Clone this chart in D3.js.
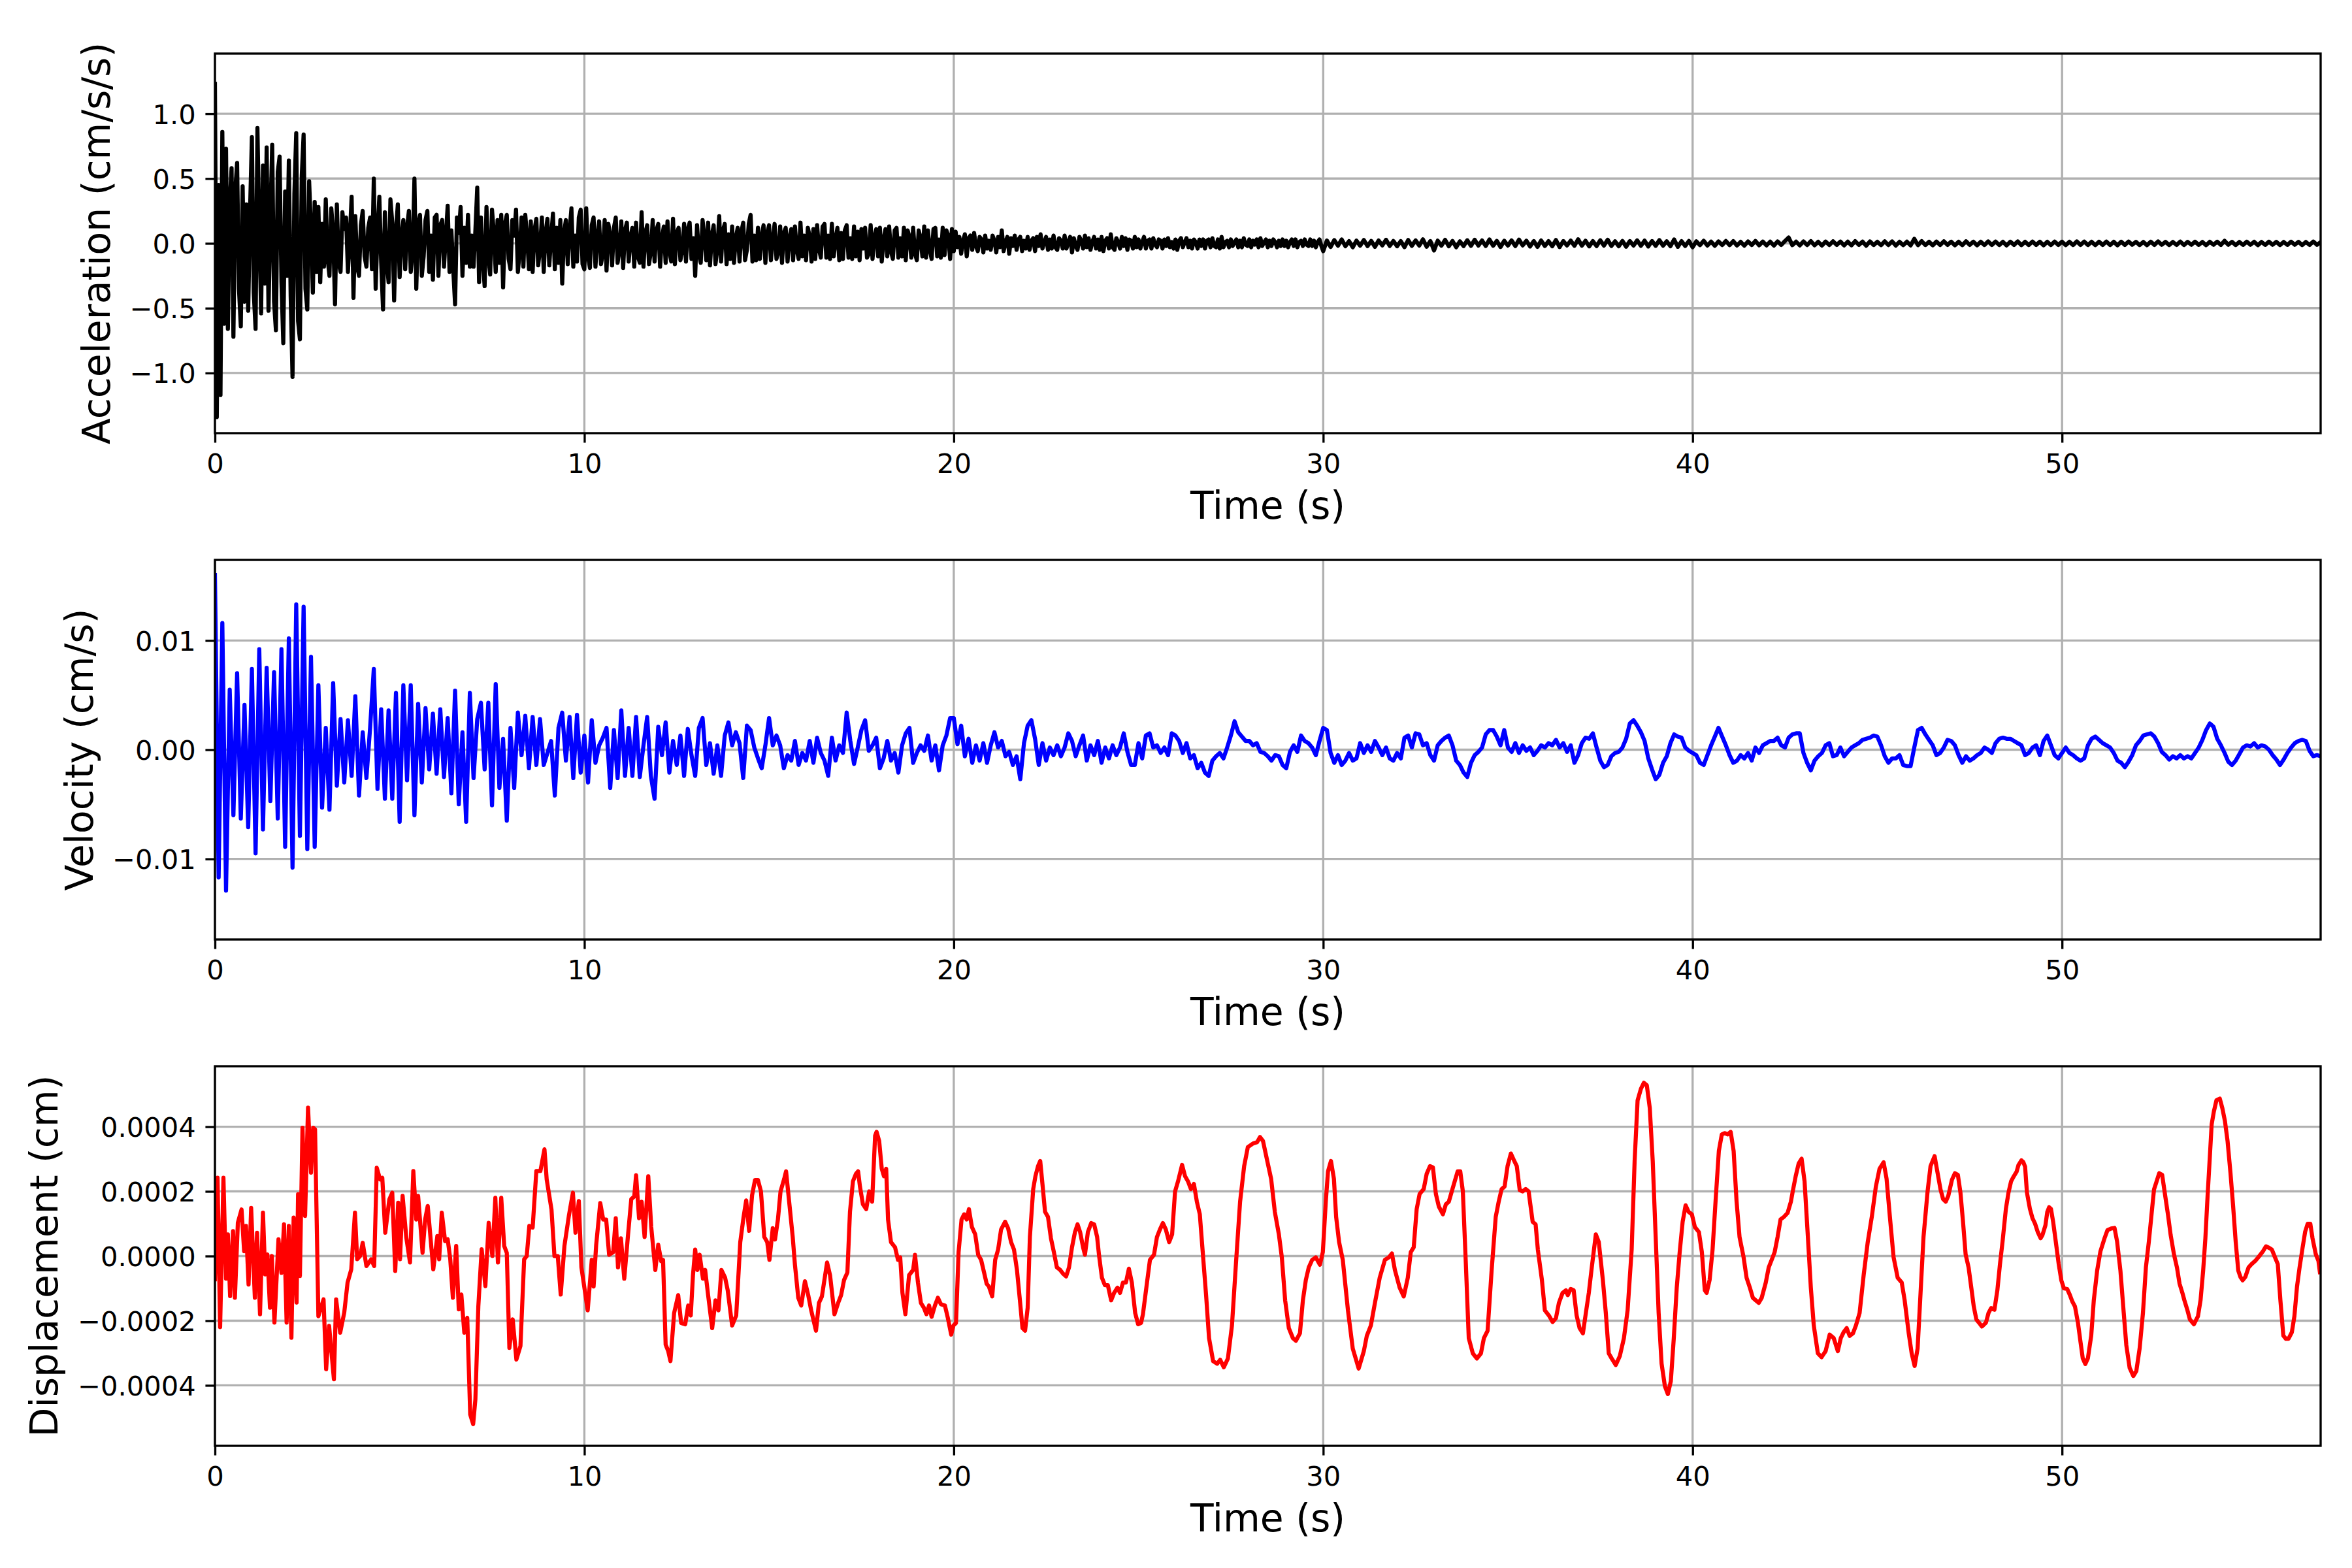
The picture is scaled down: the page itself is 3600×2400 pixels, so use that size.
<!DOCTYPE html>
<html>
<head>
<meta charset="utf-8">
<script src="https://cdn.jsdelivr.net/npm/d3@7"></script>
<style>
  body { margin: 0; background: #fff; }
</style>
</head>
<body>
<svg id="chart" width="3600" height="2400"></svg>
<script>
// sampling steps (s) of the values
const EARLY_DT = 0.05;   // acceleration, 0 - 30 s
const LATE_START = 30;
const SAMPLE_DT = 0.1;   // acceleration after 30 s, velocity everywhere

// Acceleration (cm/s/s), 0 - 29.95 s
const accelEarly = [
  1.23,-1.34,0.45,-1.17,0.86,-0.62,0.73,-0.66,0.32,0.58,-0.72,0.41,0.62,-0.35,-0.64,0.44,-0.45,0.30,-0.52,0.25,
  0.82,-0.38,-0.66,0.89,0.12,-0.54,0.60,-0.31,0.74,-0.52,0.20,0.76,-0.45,-0.67,0.55,0.67,-0.30,-0.77,0.40,-0.25,
  0.64,-0.41,-1.03,0.38,0.85,-0.60,-0.74,0.52,0.84,-0.35,-0.51,0.48,0.10,-0.38,0.32,-0.22,0.28,-0.30,0.15,-0.18,
  0.34,-0.12,-0.25,0.27,0.08,-0.47,0.30,-0.15,-0.22,0.24,0.11,0.20,-0.22,0.05,0.36,-0.42,0.21,-0.18,-0.25,0.14,
  0.25,-0.10,-0.18,0.12,0.20,-0.20,0.50,-0.35,0.08,0.36,-0.15,-0.51,0.24,-0.14,-0.30,0.34,0.16,-0.44,0.10,0.30,
  -0.26,0.05,0.18,-0.20,0.12,0.25,-0.22,-0.08,0.50,-0.35,0.15,0.22,-0.25,-0.10,0.18,0.25,-0.22,0.06,-0.28,0.20,
  0.22,-0.25,0.14,0.18,-0.18,0.06,0.29,-0.22,0.10,-0.20,-0.47,0.20,0.08,0.28,-0.25,0.12,-0.15,0.22,-0.18,0.06,
  -0.18,0.10,0.43,-0.30,0.20,-0.12,-0.33,0.28,-0.10,-0.24,0.26,0.08,-0.22,0.18,-0.15,0.22,-0.34,0.15,0.22,-0.12,
  -0.20,0.18,0.06,0.26,-0.22,-0.06,0.20,-0.18,0.22,0.05,-0.20,0.17,-0.22,0.10,0.19,-0.17,-0.04,0.20,-0.22,0.08,
  0.19,-0.17,0.05,0.23,-0.20,0.12,-0.15,0.18,-0.31,0.08,0.18,-0.16,0.10,0.27,-0.18,0.06,-0.14,0.20,0.26,-0.16,
  -0.20,0.27,-0.10,-0.19,0.14,0.20,-0.18,0.05,0.17,-0.16,-0.08,0.18,-0.21,0.15,0.06,-0.17,0.12,0.20,-0.15,-0.05,
  0.17,-0.19,0.10,0.16,-0.14,0.05,0.12,-0.18,0.16,-0.10,-0.15,0.24,-0.18,0.08,0.14,-0.16,-0.06,0.18,-0.14,0.10,
  0.15,-0.18,0.04,0.13,-0.15,0.17,-0.06,-0.14,0.19,-0.16,0.08,0.12,-0.13,-0.05,0.15,-0.14,0.11,0.16,-0.12,0.04,
  -0.25,0.14,-0.08,-0.15,0.18,0.05,-0.13,0.16,-0.17,0.06,0.14,-0.16,-0.04,0.21,-0.14,0.10,0.15,-0.16,0.07,-0.12,
  0.13,-0.15,0.04,0.12,-0.14,0.09,0.16,-0.13,-0.05,0.15,0.22,-0.14,0.06,-0.13,0.12,-0.12,0.05,0.14,-0.15,0.08,
  0.14,-0.13,0.03,0.15,-0.12,-0.06,0.13,-0.15,0.08,0.12,-0.14,0.04,0.11,-0.13,0.13,-0.05,-0.12,0.16,-0.10,0.06,
  -0.13,0.12,0.05,-0.14,0.11,-0.12,0.14,-0.04,-0.11,0.13,0.15,-0.11,0.06,-0.12,0.15,-0.10,0.03,0.12,-0.13,0.08,
  -0.12,0.10,0.14,-0.11,0.04,-0.12,0.13,-0.10,0.09,-0.13,0.11,-0.04,0.12,-0.11,-0.08,0.14,-0.12,0.05,0.11,-0.10,
  0.12,-0.14,0.03,0.11,-0.10,0.13,-0.06,-0.12,0.10,0.12,-0.11,0.04,-0.10,0.12,-0.13,0.10,0.05,-0.11,0.12,-0.08,
  -0.13,0.10,0.04,-0.10,0.13,-0.11,0.10,-0.05,-0.12,0.11,0.12,-0.10,0.03,-0.11,0.12,-0.09,0.10,0.06,-0.12,0.11,
  -0.06,0.09,-0.03,0.05,-0.08,0.02,0.07,-0.10,0.04,0.06,-0.05,0.08,-0.02,-0.06,0.05,0.03,-0.07,0.06,-0.04,0.02,
  -0.05,0.06,0.02,-0.07,0.05,-0.03,0.10,-0.06,0.01,0.05,-0.08,0.04,-0.02,0.06,-0.05,0.03,0.05,-0.06,0.02,-0.04,
  0.05,-0.05,0.02,0.04,-0.06,0.05,-0.02,0.07,-0.04,0.01,0.05,-0.05,0.03,-0.04,0.06,-0.03,-0.05,0.04,0.02,-0.04,
  0.06,-0.04,0.01,0.05,-0.07,0.04,-0.02,-0.05,0.05,0.02,-0.04,0.06,-0.03,0.04,-0.05,0.01,0.05,-0.04,0.03,-0.05,
  0.05,-0.06,0.02,0.04,-0.04,0.07,-0.03,-0.05,0.04,0.01,-0.04,0.05,-0.02,0.04,-0.05,0.03,0.02,-0.04,0.05,-0.03,
  0.03,-0.04,0.01,0.05,-0.04,0.02,0.03,-0.04,0.04,-0.01,-0.03,0.03,0.02,-0.04,0.03,-0.02,0.04,-0.03,0.01,-0.04,
  0.03,-0.05,0.02,0.04,-0.03,0.01,0.04,-0.03,0.02,-0.04,0.03,0.01,-0.04,0.03,-0.02,0.03,-0.04,0.02,0.03,-0.03,
  0.04,-0.02,-0.03,0.03,-0.04,0.05,-0.03,0.01,0.02,-0.03,0.03,-0.02,0.01,0.03,-0.03,0.02,-0.03,0.04,-0.01,-0.02,
  0.03,-0.03,0.02,-0.01,0.03,-0.03,0.04,-0.02,0.01,0.03,-0.03,0.02,-0.02,0.03,0.01,-0.03,0.02,-0.02,0.03,-0.02,
  0.02,-0.03,0.01,0.03,-0.02,0.03,-0.03,0.01,0.02,-0.02,0.03,-0.01,-0.02,0.03,-0.02,0.02,-0.03,0.01,0.03,-0.02
];

// Acceleration (cm/s/s), 30.0 - 57.0 s
const accelLate = [
  -0.060,0.022,-0.028,0.025,-0.018,0.030,-0.022,0.017,-0.030,0.021,
  -0.018,0.026,-0.021,0.019,-0.027,0.022,-0.016,0.028,-0.020,0.018,
  -0.022,0.017,-0.029,0.026,-0.019,0.023,-0.017,0.031,-0.026,0.018,
  -0.055,0.021,-0.018,0.027,-0.022,0.019,-0.030,0.016,-0.021,0.024,
  -0.019,0.028,-0.017,0.022,-0.020,0.030,-0.018,0.019,-0.028,0.020,
  -0.017,0.023,-0.021,0.029,-0.016,0.020,-0.024,0.018,-0.027,0.022,
  -0.020,0.017,-0.022,0.026,-0.029,0.018,-0.016,0.021,-0.019,0.032,
  -0.018,0.020,-0.023,0.017,-0.021,0.024,-0.017,0.028,-0.020,0.016,
  -0.022,0.019,-0.026,0.018,-0.017,0.023,-0.019,0.021,-0.024,0.018,
  -0.019,0.025,-0.018,0.016,-0.022,0.030,-0.027,0.017,-0.020,0.019,
  -0.030,0.016,-0.014,0.020,-0.017,0.013,-0.019,0.015,-0.013,0.018,
  -0.014,0.017,-0.016,0.012,-0.018,0.015,-0.013,0.019,-0.015,0.014,
  -0.016,0.013,-0.017,0.015,-0.012,0.018,0.045,-0.014,0.013,-0.016,
  0.015,-0.013,0.017,-0.015,0.012,-0.017,0.014,-0.013,0.016,-0.012,
  0.014,-0.016,0.013,-0.015,0.017,-0.012,0.013,-0.018,0.015,-0.013,
  0.012,-0.014,0.016,-0.013,0.015,-0.017,0.012,-0.014,0.013,-0.016,
  0.035,-0.014,0.017,-0.013,0.012,-0.015,0.014,-0.013,0.016,-0.012,
  0.013,-0.015,0.012,-0.014,0.016,-0.012,0.013,-0.015,0.012,-0.013,
  0.015,-0.012,0.014,-0.013,0.012,-0.016,0.013,-0.012,0.015,-0.014,
  0.012,-0.013,0.014,-0.012,0.013,-0.015,0.012,-0.013,0.014,-0.012,
  0.013,-0.014,0.012,-0.013,0.015,-0.012,0.014,-0.013,0.012,-0.014,
  0.013,-0.012,0.014,-0.013,0.012,-0.015,0.013,-0.012,0.014,-0.011,
  0.012,-0.013,0.011,-0.014,0.013,-0.012,0.015,-0.011,0.012,-0.013,
  0.011,-0.012,0.014,-0.013,0.012,-0.011,0.013,-0.012,0.011,-0.014,
  0.012,-0.011,0.013,-0.012,0.020,-0.011,0.012,-0.013,0.011,-0.012,
  0.013,-0.011,0.012,-0.014,0.011,-0.012,0.013,-0.011,0.012,-0.013,
  0.011,-0.012,0.013,-0.011,0.012,-0.013,0.011,-0.012,0.014,-0.011,
  0.010
];

// Velocity, in thousandths of cm/s, 0 - 57.0 s
const velocityMilli = [
  16.0,-11.7,11.6,-12.9,5.5,-6.0,7.0,-6.3,4.1,-7.1,
  7.4,-9.5,9.2,-7.3,7.5,-4.7,7.1,-6.3,9.2,-8.9,
  10.2,-10.8,13.3,-7.9,13.1,-9.1,8.5,-8.9,5.9,-5.3,
  2.0,-5.5,6.1,-3.3,2.8,-3.0,2.7,-2.4,4.9,-4.2,
  1.6,-2.6,2.0,7.4,-3.6,3.7,-4.5,3.6,-4.5,5.2,
  -6.6,5.9,-2.8,5.9,-6.0,4.2,-3.0,3.8,-1.8,3.3,
  -2.2,3.7,-2.5,2.9,-4.0,5.4,-5.0,1.6,-6.6,5.2,
  -2.6,2.8,4.3,-1.8,4.3,-5.1,6.0,-3.5,1.0,-6.5,
  2.0,-3.5,3.4,-0.5,3.1,-1.7,3.0,-1.4,2.8,-1.4,
  -0.3,0.8,-4.2,2.0,3.4,-1.0,3.0,-2.6,3.2,-2.1,
  1.3,-3.0,2.7,-1.2,0.4,1.1,2.0,-3.5,1.8,-2.6,
  3.6,-2.4,2.0,-2.4,3.0,-2.5,0.4,3.0,-2.4,-4.5,
  2.1,-0.5,2.5,-2.1,0.8,-1.4,1.3,-2.4,1.9,-0.5,
  -2.4,2.0,2.9,-1.4,0.6,-2.2,0.4,-2.4,1.3,2.5,
  0.4,1.6,0.6,-2.6,2.2,1.8,0.2,-0.8,-1.7,0.4,
  2.9,0.4,1.3,0.4,-1.7,-0.5,-1.0,0.8,-1.4,-0.3,
  -1.0,0.8,-1.2,1.1,-0.3,-1.0,-2.4,1.1,-1.0,0.4,
  -0.3,3.4,0.8,-1.3,0.2,1.8,2.7,-0.1,0.4,1.1,
  -1.7,-0.8,0.8,-1.0,-0.3,-2.1,0.4,1.5,2.0,-1.2,
  -0.3,0.4,-0.1,1.3,-1.0,0.4,-1.9,0.4,1.3,2.9,
  2.9,0.5,2.2,-0.6,1.0,-1.2,0.4,-1.0,0.6,-1.2,
  0.4,1.6,0.2,0.8,-0.6,-0.2,-1.4,-0.6,-2.7,0.6,
  2.2,2.7,1.0,-1.4,0.6,-1.0,0.2,-0.5,0.4,-0.6,
  0.2,1.5,0.8,-0.6,0.4,1.3,-1.0,0.4,-0.5,0.8,
  -1.2,0.2,-0.8,0.4,-0.5,0.2,1.5,-0.2,-1.4,-1.4,
  0.6,-0.8,1.3,1.5,0.2,0.4,-0.3,0.2,-0.5,1.5,
  1.3,0.8,-0.3,0.6,-0.8,-0.5,-1.7,-1.2,-2.1,-2.4,
  -1.0,-0.6,-0.3,-0.8,0.2,1.3,2.6,1.6,1.2,0.8,
  0.8,0.4,0.6,-0.2,-0.3,-0.6,-1.0,-0.5,-0.6,-1.4,
  -1.7,-0.2,0.4,-0.2,1.3,0.8,0.6,0.2,-0.5,0.8,
  2.0,1.8,-0.3,-1.2,-0.5,-1.4,-1.0,-0.3,-1.0,-0.8,
  0.6,-0.3,0.4,-0.2,0.8,0.2,-0.5,0.2,-0.8,-1.0,
  -0.3,-0.8,1.1,1.3,0.2,1.5,1.4,0.4,0.6,-0.5,
  -1.0,0.4,0.8,1.1,1.3,0.4,-1.0,-1.4,-2.1,-2.5,
  -1.2,-0.5,-0.2,0.2,1.4,1.8,1.8,1.2,0.4,1.8,
  0.2,-0.2,0.6,-0.3,0.4,-0.1,0.2,-0.5,-0.1,0.4,
  0.2,0.6,0.4,0.9,0.2,0.6,-0.2,0.4,-1.2,-0.5,
  0.6,1.1,1.0,1.5,0.2,-1.0,-1.6,-1.4,-0.6,-0.3,
  -0.2,0.2,1.0,2.4,2.7,2.2,1.6,0.8,-0.8,-1.8,
  -2.7,-2.3,-1.2,-0.6,0.6,1.4,1.2,1.1,0.2,-0.1,
  -0.3,-0.5,-1.2,-1.4,-0.5,0.4,1.2,2.0,1.2,0.4,
  -0.5,-1.2,-1.0,-0.5,-0.8,-0.3,-1.0,0.2,-0.3,0.4,
  0.6,0.8,0.8,1.1,0.4,0.2,1.1,1.4,1.5,1.5,
  -0.3,-1.2,-1.9,-1.0,-0.6,-0.3,0.4,0.6,-0.6,-0.5,
  0.2,-0.6,-0.2,0.2,0.4,0.6,0.9,1.0,1.1,1.3,
  1.2,0.4,-0.6,-1.2,-0.8,-0.8,-0.5,-1.4,-1.5,-1.5,
  0.2,1.8,2.0,1.4,0.9,0.4,-0.5,-0.3,0.2,0.9,
  0.8,0.4,-0.5,-1.2,-0.6,-1.0,-0.8,-0.5,-0.3,0.2,
  0.0,-0.3,0.6,1.0,1.1,1.0,1.0,0.8,0.6,0.4,
  -0.5,-0.3,0.2,0.4,-0.5,0.8,1.3,0.4,-0.5,-0.8,
  -0.3,0.2,-0.3,-0.5,-0.8,-1.0,-0.8,0.4,1.0,1.2,
  0.9,0.6,0.4,0.2,-0.3,-1.0,-1.2,-1.6,-1.1,-0.5,
  0.4,0.8,1.3,1.4,1.5,1.2,0.6,-0.2,-0.5,-0.9,
  -0.6,-0.8,-0.5,-0.8,-0.6,-0.8,-0.3,0.2,0.9,1.8,
  2.4,2.1,1.0,0.4,-0.3,-1.1,-1.4,-1.0,-0.4,0.2,
  0.4,0.3,0.6,0.2,0.4,0.3,0.0,-0.5,-0.9,-1.4,
  -0.9,-0.3,0.2,0.6,0.8,0.9,0.8,-0.1,-0.6,-0.5,
  -0.6
];

// Displacement: [time (s), value in units of 1e-4 cm]
const dispSamples = [
  [0,-0.72],[0.07,2.42],[0.14,-2.2],[0.23,2.42],[0.30,-0.7],[0.35,0.67],[0.41,-1.24],[0.49,0.77],
  [0.54,-1.29],[0.62,1.03],[0.72,1.44],[0.79,0.15],[0.84,0.93],[0.91,-0.88],[0.98,1.49],[1.08,-1.29],
  [1.14,0.72],[1.22,-1.8],[1.30,1.34],[1.36,-0.57],[1.42,0.05],[1.49,-1.6],[1.54,0],[1.61,-2.06],
  [1.72,0.52],[1.80,-0.52],[1.87,0.98],[1.94,-2.06],[2.00,0.93],[2.07,-2.53],[2.13,1.19],[2.21,-1.44],
  [2.25,1.91],[2.30,-0.62],[2.37,3.97],[2.44,1.24],[2.52,4.59],[2.60,2.58],[2.66,3.97],[2.71,3.92],
  [2.80,-1.86],[2.94,-1.34],[3.01,-3.5],[3.09,-2.16],[3.22,-3.81],[3.28,-1.34],[3.39,-2.37],[3.50,-1.75],
  [3.59,-0.82],[3.69,-0.41],[3.79,1.34],[3.85,-0.1],[3.93,0],[4.00,0.41],[4.10,-0.31],[4.23,-0.1],
  [4.31,-0.31],[4.38,2.73],[4.47,2.37],[4.53,2.42],[4.61,0.72],[4.72,1.75],[4.80,1.96],[4.88,-0.46],
  [4.96,1.65],[5.01,-0.1],[5.08,1.86],[5.18,0.57],[5.28,-0.2],[5.37,2.63],[5.45,1.13],[5.50,1.86],
  [5.62,0.1],[5.69,1.13],[5.76,1.55],[5.91,-0.41],[6.02,0.62],[6.07,-0.1],[6.14,1.34],[6.23,0.46],
  [6.30,0.52],[6.37,-0.1],[6.44,-1.29],[6.53,0.31],[6.60,-1.65],[6.67,-1.19],[6.75,-2.37],[6.83,-1.91],
  [6.91,-4.9],[6.99,-5.2],[7.05,-4.43],[7.13,-1.55],[7.22,0.21],[7.32,-0.93],[7.41,1.03],[7.51,0],
  [7.59,1.8],[7.66,-0.2],[7.75,1.8],[7.83,0.31],[7.90,0.1],[7.97,-2.84],[8.06,-1.96],[8.16,-3.2],
  [8.27,-2.78],[8.37,-0.1],[8.44,0],[8.51,0.93],[8.60,0.88],[8.70,2.63],[8.81,2.63],[8.92,3.3],
  [8.98,2.37],[9.11,1.44],[9.19,0],[9.28,0],[9.36,-1.19],[9.46,0.31],[9.58,1.24],[9.69,1.96],
  [9.76,0.72],[9.85,1.7],[9.92,-0.35],[10.09,-1.68],[10.20,-0.12],[10.25,-0.94],[10.32,0.35],[10.43,1.64],
  [10.51,1.13],[10.59,1.13],[10.67,0.04],[10.78,0.12],[10.85,1.17],[10.91,-0.35],[10.99,0.55],[11.08,-0.7],
  [11.18,0.63],[11.27,1.76],[11.35,1.84],[11.40,2.5],[11.48,1.17],[11.55,1.68],[11.63,0.59],[11.73,2.47],
  [11.81,0.9],[11.92,-0.43],[12.00,0.35],[12.08,-0.16],[12.13,-0.12],[12.20,-2.74],[12.27,-2.94],[12.33,-3.25],
  [12.43,-1.76],[12.54,-1.21],[12.62,-2.07],[12.73,-2.11],[12.81,-1.53],[12.88,-1.84],[12.94,-0.59],[13.00,0.2],
  [13.06,-0.43],[13.12,0.04],[13.21,-0.7],[13.27,-0.43],[13.35,-1.21],[13.46,-2.23],[13.55,-1.37],[13.63,-1.68],
  [13.71,-0.43],[13.81,-0.67],[13.88,-1.06],[14.00,-2.15],[14.11,-1.84],[14.22,0.43],[14.31,1.21],[14.38,1.72],
  [14.46,0.78],[14.54,1.88],[14.62,2.35],[14.70,2.35],[14.78,2.0],[14.87,0.59],[14.95,0.43],[15.01,-0.12],
  [15.10,0.86],[15.16,0.51],[15.24,1.13],[15.31,2.0],[15.41,2.39],[15.46,2.62],[15.54,1.72],[15.64,0.59],
  [15.70,-0.27],[15.79,-1.29],[15.87,-1.53],[15.97,-0.78],[16.06,-1.21],[16.14,-1.68],[16.27,-2.31],[16.35,-1.45],
  [16.43,-1.25],[16.57,-0.2],[16.65,-0.59],[16.77,-1.8],[16.87,-1.45],[16.95,-1.21],[17.03,-0.74],[17.12,-0.51],
  [17.19,1.37],[17.27,2.31],[17.35,2.54],[17.41,2.62],[17.46,2.15],[17.54,1.6],[17.63,1.45],[17.71,2.0],
  [17.79,1.68],[17.87,3.72],[17.91,3.84],[17.98,3.56],[18.05,2.7],[18.11,2.47],[18.17,2.7],[18.22,1.13],
  [18.30,0.43],[18.41,0.27],[18.49,-0.12],[18.55,-0.04],[18.61,-1.14],[18.69,-1.8],[18.79,-0.59],[18.90,-0.43],
  [18.95,0.04],[19.03,-0.82],[19.11,-1.45],[19.19,-1.6],[19.26,-1.8],[19.33,-1.53],[19.40,-1.88],[19.49,-1.53],
  [19.57,-1.29],[19.65,-1.49],[19.76,-1.53],[19.84,-1.92],[19.93,-2.43],[19.99,-2.15],[20.06,-2.07],[20.13,0.12],
  [20.21,1.13],[20.28,1.29],[20.35,1.13],[20.41,1.45],[20.49,0.9],[20.58,0.67],[20.66,0.04],[20.74,-0.12],
  [20.82,-0.51],[20.89,-0.86],[20.95,-0.94],[21.04,-1.25],[21.12,-0.12],[21.20,0.2],[21.28,0.82],[21.39,1.06],
  [21.47,0.86],[21.55,0.43],[21.63,0.2],[21.71,-0.43],[21.79,-1.37],[21.86,-2.23],[21.93,-2.31],[22.00,-1.6],
  [22.06,0.59],[22.15,2.07],[22.21,2.47],[22.28,2.78],[22.34,2.94],[22.40,2.23],[22.47,1.37],[22.55,1.21],
  [22.63,0.55],[22.71,0.12],[22.79,-0.35],[22.88,-0.43],[22.96,-0.55],[23.04,-0.63],[23.12,-0.35],[23.20,0.27],
  [23.28,0.74],[23.35,0.98],[23.42,0.74],[23.50,0.27],[23.55,0.04],[23.63,0.74],[23.72,1.02],[23.80,0.98],
  [23.88,0.59],[23.93,0.04],[24.01,-0.67],[24.09,-0.9],[24.17,-0.9],[24.26,-1.37],[24.34,-1.14],[24.43,-0.98],
  [24.50,-1.14],[24.58,-0.82],[24.66,-0.82],[24.74,-0.39],[24.82,-0.82],[24.91,-1.76],[24.99,-2.11],[25.07,-2.07],
  [25.12,-1.8],[25.23,-0.82],[25.31,-0.12],[25.42,0.04],[25.50,0.59],[25.58,0.82],[25.66,1.02],[25.74,0.82],
  [25.83,0.43],[25.91,0.67],[25.99,2.0],[26.07,2.31],[26.18,2.82],[26.26,2.47],[26.34,2.31],[26.42,2.07],
  [26.50,2.23],[26.58,1.68],[26.66,1.29],[26.75,-0.04],[26.83,-1.21],[26.91,-2.54],[27.02,-3.25],[27.13,-3.33],
  [27.21,-3.21],[27.31,-3.44],[27.42,-3.17],[27.53,-2.15],[27.64,-0.2],[27.75,1.68],[27.86,2.78],[27.96,3.37],
  [28.10,3.48],[28.21,3.52],[28.29,3.68],[28.37,3.56],[28.48,2.97],[28.59,2.39],[28.69,1.37],[28.80,0.67],
  [28.88,-0.04],[28.97,-1.37],[29.07,-2.23],[29.18,-2.54],[29.26,-2.62],[29.37,-2.39],[29.45,-1.37],[29.53,-0.74],
  [29.61,-0.35],[29.70,-0.12],[29.80,-0.04],[29.91,-0.27],[29.99,0.12],[30.07,1.68],[30.13,2.62],[30.21,2.94],
  [30.29,2.39],[30.35,1.21],[30.43,0.43],[30.53,-0.12],[30.67,-1.68],[30.80,-2.86],[30.96,-3.48],[31.10,-2.94],
  [31.18,-2.47],[31.29,-2.15],[31.40,-1.45],[31.53,-0.67],[31.67,-0.12],[31.78,-0.04],[31.86,0.08],[31.94,-0.43],
  [32.07,-0.98],[32.18,-1.25],[32.29,-0.67],[32.37,0.12],[32.45,0.27],[32.53,1.45],[32.61,1.92],[32.72,2.07],
  [32.80,2.54],[32.89,2.78],[32.97,2.74],[33.05,1.92],[33.13,1.53],[33.24,1.29],[33.32,1.6],[33.40,1.68],
  [33.48,2.0],[33.56,2.31],[33.64,2.62],[33.71,2.62],[33.78,2.0],[33.86,-0.2],[33.94,-2.54],[34.05,-3.01],
  [34.16,-3.17],[34.27,-3.01],[34.35,-2.54],[34.45,-2.31],[34.56,-0.43],[34.67,1.21],[34.75,1.68],[34.83,2.07],
  [34.91,2.15],[34.99,2.78],[35.08,3.17],[35.16,2.97],[35.24,2.78],[35.32,2.04],[35.40,2.0],[35.48,2.07],
  [35.56,2.0],[35.67,1.06],[35.75,0.98],[35.81,0.2],[35.92,-0.74],[36.00,-1.68],[36.11,-1.84],[36.21,-2.04],
  [36.30,-1.92],[36.38,-1.45],[36.48,-1.14],[36.57,-1.06],[36.62,-1.21],[36.70,-1.02],[36.78,-1.06],[36.86,-1.84],
  [36.94,-2.23],[37.03,-2.39],[37.11,-1.76],[37.19,-1.14],[37.27,-0.35],[37.38,0.67],[37.46,0.43],[37.57,-0.74],
  [37.65,-1.76],[37.73,-3.01],[37.81,-3.17],[37.92,-3.37],[38.03,-3.09],[38.14,-2.54],[38.24,-1.68],[38.35,0.2],
  [38.43,2.94],[38.51,4.81],[38.60,5.17],[38.68,5.36],[38.76,5.28],[38.84,4.58],[38.92,2.94],[39.00,0.59],
  [39.08,-1.76],[39.16,-3.33],[39.25,-4.03],[39.33,-4.27],[39.41,-3.87],[39.49,-2.54],[39.57,-0.98],[39.65,0.12],
  [39.73,1.06],[39.81,1.57],[39.89,1.37],[39.98,1.29],[40.06,0.9],[40.17,0.74],[40.25,0.12],[40.33,-1.06],
  [40.38,-1.14],[40.46,-0.74],[40.54,0.2],[40.62,1.68],[40.71,3.25],[40.79,3.76],[40.87,3.8],[40.95,3.76],
  [41.03,3.84],[41.11,3.25],[41.19,1.68],[41.27,0.59],[41.38,-0.04],[41.46,-0.67],[41.55,-0.98],[41.63,-1.29],
  [41.71,-1.37],[41.79,-1.45],[41.87,-1.29],[41.98,-0.82],[42.06,-0.35],[42.14,-0.12],[42.22,0.12],[42.30,0.59],
  [42.38,1.13],[42.47,1.21],[42.57,1.33],[42.66,1.68],[42.71,2.0],[42.79,2.47],[42.87,2.86],[42.95,3.01],
  [43.03,2.31],[43.12,0.59],[43.20,-0.98],[43.28,-2.15],[43.39,-3.01],[43.49,-3.13],[43.60,-2.94],[43.71,-2.43],
  [43.82,-2.54],[43.93,-2.94],[44.01,-2.54],[44.09,-2.35],[44.17,-2.23],[44.25,-2.47],[44.34,-2.39],[44.42,-2.15],
  [44.52,-1.76],[44.63,-0.59],[44.74,0.43],[44.85,1.21],[44.96,2.15],[45.06,2.7],[45.17,2.9],[45.25,2.39],
  [45.34,1.21],[45.44,-0.04],[45.55,-0.67],[45.66,-0.82],[45.74,-1.37],[45.85,-2.39],[45.93,-3.01],[46.01,-3.4],
  [46.09,-2.86],[46.17,-1.14],[46.25,0.59],[46.36,2.0],[46.44,2.78],[46.55,3.09],[46.64,2.51],[46.71,2.06],
  [46.78,1.76],[46.85,1.68],[46.92,1.86],[47.02,2.36],[47.10,2.56],[47.18,2.51],[47.25,1.96],[47.32,1.05],
  [47.39,0.05],[47.47,-0.35],[47.54,-0.95],[47.61,-1.56],[47.68,-1.96],[47.75,-2.06],[47.83,-2.18],[47.94,-2.06],
  [48.01,-1.76],[48.08,-1.61],[48.17,-1.66],[48.25,-1.05],[48.32,-0.25],[48.39,0.45],[48.48,1.46],[48.55,1.96],
  [48.62,2.31],[48.69,2.46],[48.77,2.61],[48.82,2.81],[48.90,2.96],[48.95,2.91],[49.00,2.76],[49.05,1.96],
  [49.13,1.46],[49.20,1.17],[49.27,1.0],[49.34,0.75],[49.42,0.55],[49.47,0.65],[49.55,0.95],[49.60,1.36],
  [49.65,1.51],[49.70,1.46],[49.76,1.05],[49.83,0.45],[49.91,-0.25],[49.98,-0.75],[50.05,-1.0],[50.14,-1.02],
  [50.21,-1.2],[50.28,-1.41],[50.35,-1.56],[50.43,-2.06],[50.50,-2.66],[50.56,-3.16],[50.63,-3.34],[50.70,-3.16],
  [50.79,-2.46],[50.86,-1.36],[50.95,-0.45],[51.04,0.15],[51.15,0.55],[51.23,0.8],[51.33,0.85],[51.42,0.87],
  [51.49,0.45],[51.58,-0.45],[51.67,-1.76],[51.74,-2.76],[51.83,-3.46],[51.93,-3.71],[52.01,-3.56],[52.10,-2.86],
  [52.19,-1.76],[52.27,-0.35],[52.35,0.45],[52.42,1.26],[52.49,2.06],[52.56,2.31],[52.63,2.56],[52.71,2.51],
  [52.78,1.96],[52.87,1.26],[52.94,0.65],[53.03,0.05],[53.11,-0.35],[53.18,-0.85],[53.26,-1.15],[53.31,-1.36],
  [53.39,-1.66],[53.46,-1.96],[53.57,-2.11],[53.68,-1.86],[53.75,-1.36],[53.82,-0.45],[53.88,0.55],[53.94,1.86],
  [54.00,3.06],[54.05,4.07],[54.11,4.47],[54.18,4.82],[54.27,4.87],[54.34,4.57],[54.41,4.17],[54.48,3.56],
  [54.56,2.56],[54.63,1.56],[54.70,0.45],[54.77,-0.45],[54.83,-0.65],[54.89,-0.75],[54.96,-0.65],[55.05,-0.35],
  [55.13,-0.25],[55.23,-0.15],[55.34,0],[55.44,0.15],[55.52,0.3],[55.61,0.25],[55.68,0.2],[55.75,0],
  [55.84,-0.25],[55.91,-1.36],[55.99,-2.46],[56.06,-2.56],[56.13,-2.56],[56.22,-2.36],[56.29,-1.86],[56.36,-0.95],
  [56.43,-0.35],[56.51,0.25],[56.58,0.75],[56.65,1.0],[56.72,1.0],[56.78,0.55],[56.87,0.05],[56.94,-0.15],
  [56.98,-0.5]
];

const timeTicks = [0, 10, 20, 30, 40, 50];
const accelTicks = [-1.0, -0.5, 0.0, 0.5, 1.0];
const velocityTicks = [-0.01, 0.0, 0.01];
const dispTicks = [-0.0004, -0.0002, 0.0, 0.0002, 0.0004];

// layout (px, figure is 3600x2400 at 300 dpi)
const PT = 300 / 72;
const FONT = "DejaVu Sans";
const plotLeft = 329, plotRight = 3552, plotH = 581;
const panelTops = [82, 857, 1632];
const tickLen = 3.5 * PT, tickPad = 3.5 * PT, labelPad = 4 * PT;
const tickFont = 10 * PT, labelFont = 14 * PT;

const svg = d3.select("#chart");
svg.append("rect").attr("width", 3600).attr("height", 2400).attr("fill", "#fff");

const x = d3.scaleLinear().domain([0, 57.0]).range([plotLeft, plotRight]);

const accelPoints = accelEarly.map((v, i) => [i * EARLY_DT, v])
    .concat(accelLate.map((v, i) => [LATE_START + i * SAMPLE_DT, v]));

const panels = [
    {
        label: "Acceleration (cm/s/s)", color: "#000000",
        points: accelPoints,
        domain: [-1.464, 1.464], ticks: accelTicks, fmt: d3.format(".1f")
    },
    {
        label: "Velocity (cm/s)", color: "#0000ff",
        points: velocityMilli.map((v, i) => [i * SAMPLE_DT, v * 1e-3]),
        domain: [-0.01738, 0.01738], ticks: velocityTicks, fmt: d3.format(".2f")
    },
    {
        label: "Displacement (cm)", color: "#ff0000",
        points: dispSamples.map(d => [d[0], d[1] * 1e-4]),
        domain: [-0.000587, 0.000587], ticks: dispTicks, fmt: d3.format(".4f")
    }
];

panels.forEach(function(p, idx){
    var top = panelTops[idx];
    var bottom = top + plotH;
    var y = d3.scaleLinear().domain(p.domain).range([bottom, top]);
    var g = svg.append("g").attr("class", "panel");

    //Grid
    g.append("g").selectAll("line").data(timeTicks).join("line")
        .attr("x1", d => x(d)).attr("x2", d => x(d))
        .attr("y1", top).attr("y2", bottom)
        .attr("stroke", "#b0b0b0").attr("stroke-width", 0.8 * PT);
    g.append("g").selectAll("line").data(p.ticks).join("line")
        .attr("x1", plotLeft).attr("x2", plotRight)
        .attr("y1", d => y(d)).attr("y2", d => y(d))
        .attr("stroke", "#b0b0b0").attr("stroke-width", 0.8 * PT);

    //Data line, clipped to the axes box
    var clipId = "clip" + idx;
    svg.append("clipPath").attr("id", clipId).append("rect")
        .attr("x", plotLeft).attr("y", top).attr("width", plotRight - plotLeft).attr("height", plotH);
    g.append("path")
        .datum(p.points)
        .attr("clip-path", "url(#" + clipId + ")")
        .attr("fill", "none")
        .attr("stroke", p.color)
        .attr("stroke-width", 1.5 * PT)
        .attr("stroke-linejoin", "round")
        .attr("stroke-linecap", "square")
        .attr("d", d3.line().x(d => x(d[0])).y(d => y(d[1])));

    //Axes
    var gx = g.append("g").attr("transform", "translate(0," + bottom + ")")
        .call(d3.axisBottom(x).tickValues(timeTicks).tickFormat(d3.format("d"))
            .tickSize(tickLen).tickPadding(tickPad));
    var gy = g.append("g").attr("transform", "translate(" + plotLeft + ",0)")
        .call(d3.axisLeft(y).tickValues(p.ticks).tickFormat(p.fmt)
            .tickSize(tickLen).tickPadding(tickPad));
    [gx, gy].forEach(function(a){
        a.select(".domain").remove();
        a.selectAll("line").attr("stroke", "#000").attr("stroke-width", 0.8 * PT);
        a.selectAll("text").attr("font-family", FONT).attr("font-size", tickFont).attr("fill", "#000");
    });
    gx.selectAll("text").attr("dy", "0.76em");
    gy.selectAll("text").attr("dy", "0.36em");

    //Spines
    g.append("rect")
        .attr("x", plotLeft).attr("y", top)
        .attr("width", plotRight - plotLeft).attr("height", plotH)
        .attr("fill", "none").attr("stroke", "#000").attr("stroke-width", 0.8 * PT);

    //Axis labels
    g.append("text")
        .attr("x", (plotLeft + plotRight) / 2)
        .attr("y", bottom + tickLen + tickPad + 0.99 * tickFont + labelPad + 0.76 * labelFont)
        .attr("text-anchor", "middle")
        .attr("font-family", FONT).attr("font-size", labelFont).attr("fill", "#000")
        .text("Time (s)");

    var maxW = d3.max(gy.selectAll("text").nodes(), n => n.getComputedTextLength());
    var lx = plotLeft - tickLen - tickPad - maxW - labelPad - 0.24 * labelFont;
    g.append("text")
        .attr("transform", "translate(" + lx + "," + (top + plotH / 2) + ") rotate(-90)")
        .attr("text-anchor", "middle")
        .attr("font-family", FONT).attr("font-size", labelFont).attr("fill", "#000")
        .text(p.label);
});
</script>
</body>
</html>
